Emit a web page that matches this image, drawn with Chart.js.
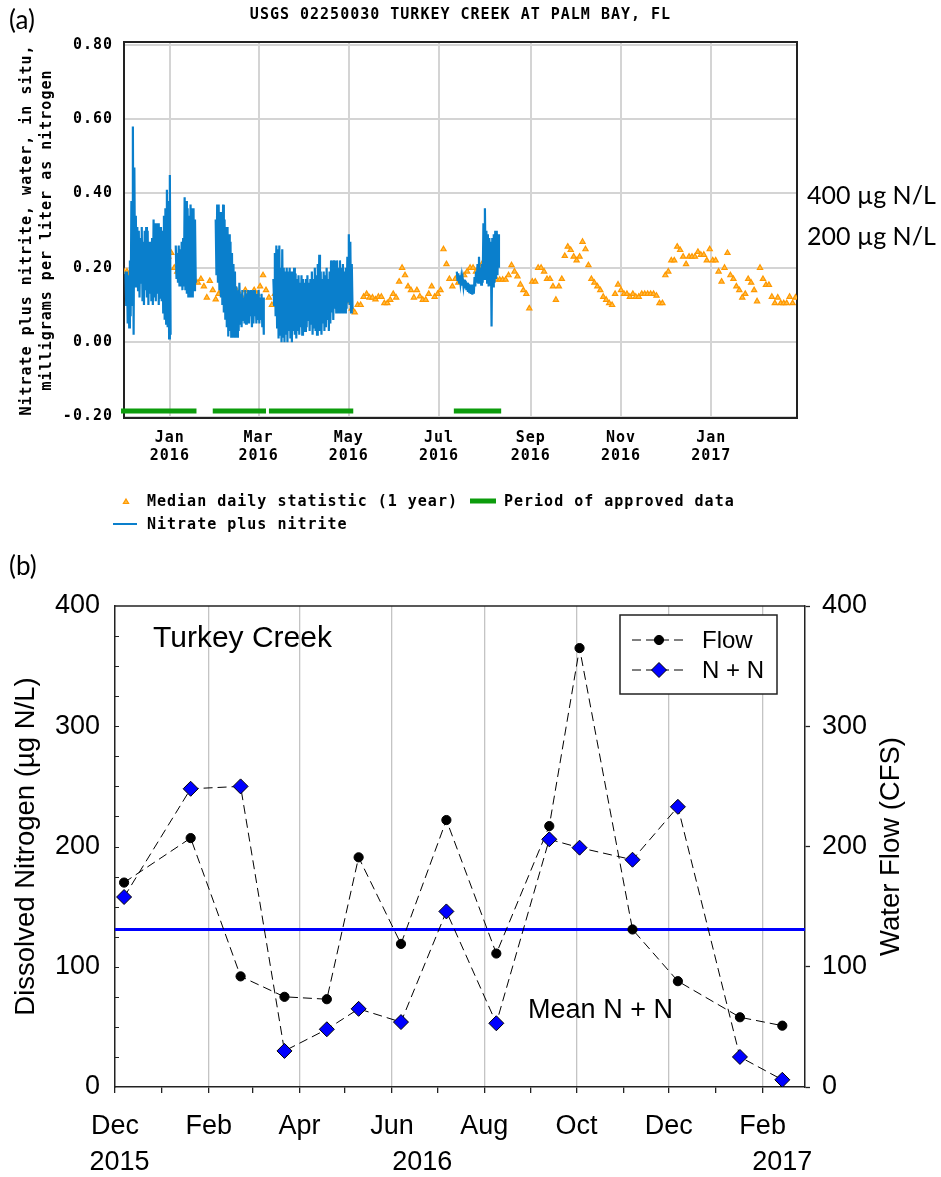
<!DOCTYPE html>
<html>
<head>
<meta charset="utf-8">
<title>Turkey Creek at Palm Bay – nitrate plus nitrite and flow</title>
<script src="https://cdn.jsdelivr.net/npm/chart.js@4.4.1/dist/chart.umd.min.js"></script>
<style>
  html, body { margin: 0; padding: 0; background: #fff; }
  body { width: 941px; height: 1177px; position: relative; overflow: hidden; }
  canvas { position: absolute; left: 0; }
  #usgs { top: 0; }
  #creek { top: 550px; }
</style>
</head>
<body>
<canvas id="usgs" width="941" height="550"></canvas>
<canvas id="creek" width="941" height="627"></canvas>
<script>
// ---------- shared helper: days since 2015-12-01 ----------
const ORIGIN = Date.UTC(2015, 11, 1);
function dayOf(s) {
  const p = s.split('-').map(Number);
  return (Date.UTC(p[0], p[1] - 1, p[2]) - ORIGIN) / 86400000;
}

// ================= Panel (a): USGS continuous record =================
const titleA = 'USGS 02250030 TURKEY CREEK AT PALM BAY, FL';
const axisTitleA = ['Nitrate plus nitrite, water, in situ,', 'milligrams per liter as nitrogen'];
const yTicksA = [-0.2, 0, 0.2, 0.4, 0.6, 0.8];
const xTickDatesA = ['2016-01-01', '2016-03-01', '2016-05-01', '2016-07-01', '2016-09-01', '2016-11-01', '2017-01-01'];
const xTickMonthsA = ['Jan', 'Mar', 'May', 'Jul', 'Sep', 'Nov', 'Jan'];
const xTickYearsA = ['2016', '2016', '2016', '2016', '2016', '2016', '2017'];
const refLabels = ['400 µg N/L', '200 µg N/L'];

// median daily statistic (1 year), one value every 2 days from 2015-12-01 (mg/L)
const medianStart = '2015-12-01';
const medianStep = 2;
const medianVal = [
  0.19, 0.19, 0.18, 0.20, 0.21, 0.20, 0.19, 0.20, 0.21, 0.20,
  0.19, 0.20, 0.21, 0.20, 0.22, 0.23, 0.24, 0.20, 0.19, 0.18,
  0.18, 0.18, 0.175, 0.17, 0.166, 0.16, 0.17, 0.15, 0.12, 0.165,
  0.14, 0.115, 0.13, 0.14, 0.13, 0.14, 0.13, 0.12, 0.14, 0.13,
  0.12, 0.14, 0.13, 0.13, 0.14, 0.13, 0.15, 0.18, 0.14, 0.12,
  0.10, 0.13, 0.14, 0.13, 0.15, 0.13, 0.12, 0.13, 0.12, 0.13,
  0.14, 0.12, 0.13, 0.12, 0.13, 0.12, 0.14, 0.12, 0.11, 0.12,
  0.13, 0.12, 0.14, 0.13, 0.13, 0.12, 0.11, 0.09, 0.08, 0.10,
  0.10, 0.122, 0.13, 0.12, 0.12, 0.115, 0.122, 0.122, 0.105, 0.105,
  0.114, 0.13, 0.12, 0.163, 0.20, 0.18, 0.15, 0.14, 0.12, 0.14,
  0.123, 0.114, 0.114, 0.13, 0.15, 0.122, 0.13, 0.14, 0.25, 0.21,
  0.17, 0.15, 0.17, 0.16, 0.17, 0.18, 0.19, 0.20, 0.20, 0.19,
  0.20, 0.21, 0.20, 0.19, 0.18, 0.17, 0.168, 0.168, 0.168, 0.168,
  0.18, 0.207, 0.19, 0.177, 0.155, 0.14, 0.13, 0.091, 0.163, 0.163,
  0.20, 0.20, 0.19, 0.17, 0.17, 0.15, 0.114, 0.15, 0.17, 0.232,
  0.257, 0.248, 0.23, 0.22, 0.23, 0.27, 0.25, 0.207, 0.17, 0.16,
  0.15, 0.14, 0.122, 0.114, 0.105, 0.10, 0.13, 0.155, 0.14, 0.13,
  0.13, 0.122, 0.13, 0.122, 0.122, 0.13, 0.13, 0.13, 0.13, 0.13,
  0.125, 0.105, 0.105, 0.18, 0.19, 0.22, 0.22, 0.257, 0.248, 0.23,
  0.21, 0.23, 0.23, 0.23, 0.243, 0.235, 0.235, 0.22, 0.25, 0.22,
  0.22, 0.19, 0.163, 0.20, 0.24, 0.18, 0.17, 0.15, 0.14, 0.12,
  0.13, 0.17, 0.16, 0.14, 0.11, 0.20, 0.17, 0.154, 0.154, 0.122,
  0.105, 0.12, 0.105, 0.105, 0.105, 0.122, 0.105, 0.12
];

// nitrate plus nitrite sensor record: daily high / low per deployment (mg/L)
const nitrateStart = ['2015-12-02', '2016-01-05', '2016-02-01', '2016-03-11', '2016-07-13'];
const nitrateHi1 = [0.19, 0.19, 0.18, 0.22, 0.38, 0.58, 0.47, 0.34, 0.31, 0.30, 0.28, 0.31, 0.27, 0.30, 0.31, 0.30,
  0.27, 0.26, 0.28, 0.33, 0.32, 0.31, 0.32, 0.30, 0.31, 0.30, 0.34, 0.36, 0.41, 0.38, 0.45];
const nitrateLo1 = [0.10, 0.05, 0.04, 0.07, 0.10, 0.02, 0.15, 0.16, 0.14, 0.12, 0.16, 0.11, 0.10, 0.14, 0.12, 0.10,
  0.13, 0.11, 0.10, 0.12, 0.11, 0.13, 0.10, 0.12, 0.11, 0.08, 0.06, 0.05, 0.04, 0.01, 0.02];
const nitrateHi2 = [0.26, 0.24, 0.26, 0.25, 0.27, 0.28, 0.39, 0.38, 0.36, 0.34, 0.37, 0.36, 0.36, 0.33];
const nitrateLo2 = [0.17, 0.16, 0.15, 0.15, 0.14, 0.15, 0.14, 0.13, 0.12, 0.12, 0.12, 0.12, 0.14, 0.16];
const nitrateHi3 = [0.33, 0.37, 0.37, 0.35, 0.33, 0.37, 0.33, 0.31, 0.31, 0.29, 0.27, 0.24, 0.21, 0.19, 0.15, 0.14,
  0.16, 0.13, 0.14, 0.12, 0.14, 0.13, 0.14, 0.12, 0.14, 0.13, 0.14, 0.12, 0.13, 0.14, 0.12, 0.13, 0.12];
const nitrateLo3 = [0.18, 0.16, 0.14, 0.12, 0.10, 0.08, 0.06, 0.04, 0.015, 0.03, 0.015, 0.02, 0.015, 0.03, 0.015, 0.03,
  0.05, 0.04, 0.06, 0.05, 0.05, 0.07, 0.05, 0.07, 0.04, 0.05, 0.07, 0.05, 0.06, 0.05, 0.06, 0.04, 0.02];
const nitrateHi4 = [0.17, 0.24, 0.26, 0.25, 0.26, 0.20, 0.25, 0.20, 0.19, 0.20, 0.19, 0.20, 0.19, 0.18, 0.20, 0.185,
  0.17, 0.18, 0.16, 0.18, 0.17, 0.16, 0.17, 0.18, 0.16, 0.17, 0.19, 0.17, 0.20, 0.18, 0.21, 0.235, 0.19, 0.17,
  0.19, 0.18, 0.20, 0.17, 0.19, 0.22, 0.21, 0.22, 0.19, 0.22, 0.20, 0.22, 0.20, 0.21, 0.19, 0.20, 0.23, 0.29,
  0.27, 0.21];
const nitrateLo4 = [0.10, 0.07, 0.04, 0.01, 0.02, 0.00, 0.015, 0.00, 0.02, 0.00, 0.03, 0.01, 0.00, 0.03, 0.02, 0.01,
  0.03, 0.02, 0.04, 0.02, 0.05, 0.03, 0.04, 0.06, 0.03, 0.05, 0.02, 0.04, 0.03, 0.02, 0.04, 0.03, 0.02, 0.05,
  0.03, 0.04, 0.06, 0.03, 0.05, 0.08, 0.06, 0.09, 0.08, 0.10, 0.08, 0.09, 0.08, 0.10, 0.08, 0.09, 0.11, 0.10,
  0.08, 0.09];
const nitrateHi5 = [0.19, 0.185, 0.18, 0.175, 0.17, 0.168, 0.165, 0.16, 0.157, 0.155, 0.15, 0.155, 0.175, 0.19, 0.21,
  0.23, 0.20, 0.21, 0.32, 0.36, 0.30, 0.29, 0.28, 0.27, 0.28, 0.29, 0.30, 0.30, 0.29];
const nitrateLo5 = [0.165, 0.16, 0.158, 0.152, 0.15, 0.145, 0.14, 0.135, 0.132, 0.13, 0.128, 0.13, 0.15, 0.16, 0.16,
  0.165, 0.155, 0.16, 0.17, 0.18, 0.16, 0.15, 0.155, 0.042, 0.15, 0.16, 0.17, 0.18, 0.20];

// periods of approved data
const approvedFrom = ['2015-11-29', '2016-01-30', '2016-03-08', '2016-07-11'];
const approvedTo = ['2016-01-19', '2016-03-06', '2016-05-04', '2016-08-12'];
const approvedLevel = -0.185;

// ---- build point lists for panel (a) ----
const medianPts = medianVal.map((v, i) => ({ x: dayOf(medianStart) + i * medianStep, y: v }));
const nitrateHi = [nitrateHi1, nitrateHi2, nitrateHi3, nitrateHi4, nitrateHi5];
const nitrateLo = [nitrateLo1, nitrateLo2, nitrateLo3, nitrateLo4, nitrateLo5];
const nitratePts = [];
nitrateStart.forEach((s, k) => {
  const d0 = dayOf(s);
  nitrateHi[k].forEach((hi, i) => {
    nitratePts.push({ x: d0 + i, y: hi }, { x: d0 + i + 0.5, y: nitrateLo[k][i] });
  });
  nitratePts.push({ x: d0 + nitrateHi[k].length, y: null });
});
const approvedPts = [];
approvedFrom.forEach((s, k) => {
  approvedPts.push({ x: dayOf(s), y: approvedLevel }, { x: dayOf(approvedTo[k]), y: approvedLevel });
  approvedPts.push({ x: dayOf(approvedTo[k]) + 1, y: null });
});

const MONO = '"DejaVu Sans Mono", "Liberation Mono", monospace';
const MONO_FONT = 'bold 15px ' + MONO;
const ORANGE_EDGE = '#ff9800', ORANGE_FILL = '#ffbe45';
const NITRATE_BLUE = '#0a7fcc', APPROVED_GREEN = '#0c9c0c';

function triangle(ctx, x, y, r) {
  ctx.beginPath();
  ctx.moveTo(x, y - r);
  ctx.lineTo(x + r * Math.sin(2 * Math.PI / 3), y - r * Math.cos(2 * Math.PI / 3));
  ctx.lineTo(x + r * Math.sin(4 * Math.PI / 3), y - r * Math.cos(4 * Math.PI / 3));
  ctx.closePath();
}

const usgsDecor = {
  id: 'usgsDecor',
  beforeDraw(chart) { chart.ctx.letterSpacing = '1px'; },
  beforeDatasetsDraw(chart) {
    const { ctx, chartArea: a } = chart;
    ctx.save();
    ctx.strokeStyle = '#222';
    ctx.lineWidth = 2;
    ctx.strokeRect(a.left, a.top, a.right - a.left, a.bottom - a.top);
    ctx.restore();
  },
  afterDraw(chart) {
    const { ctx, chartArea: a } = chart;
    ctx.save();
    ctx.fillStyle = '#000';
    ctx.font = MONO_FONT;
    ctx.textBaseline = 'middle';
    ctx.textAlign = 'center';
    ctx.fillText(titleA, (a.left + a.right) / 2, 15);

    // rotated two-line axis title
    ctx.save();
    ctx.translate(0, (a.top + a.bottom) / 2);
    ctx.rotate(-Math.PI / 2);
    ctx.fillText(axisTitleA[0], 0, 27);
    ctx.fillText(axisTitleA[1], 0, 47);
    ctx.restore();

    // legend
    const ds = chart.data.datasets;
    ctx.textAlign = 'left';
    ctx.fillStyle = ORANGE_FILL; ctx.strokeStyle = ORANGE_EDGE; ctx.lineWidth = 1.2;
    triangle(ctx, 126, 502, 3); ctx.fill(); ctx.stroke();
    ctx.fillStyle = '#000';
    ctx.fillText(ds[2].label, 147, 502);
    ctx.strokeStyle = APPROVED_GREEN; ctx.lineWidth = 5;
    ctx.beginPath(); ctx.moveTo(470, 501); ctx.lineTo(496, 501); ctx.stroke();
    ctx.fillText(ds[0].label, 504, 502);
    ctx.strokeStyle = NITRATE_BLUE; ctx.lineWidth = 2;
    ctx.beginPath(); ctx.moveTo(113, 524); ctx.lineTo(137, 524); ctx.stroke();
    ctx.fillText(ds[1].label, 147, 525);

    // panel tag and reference concentrations
    ctx.letterSpacing = '0px';
    ctx.font = '26px Lato, "Noto Sans", sans-serif';
    ctx.fillText('(a)', 9, 21);
    ctx.font = '25px Lato, "Noto Sans", sans-serif';
    ctx.fillText(refLabels[0], 807, 196);
    ctx.fillText(refLabels[1], 807, 237);
    ctx.restore();
    ctx.letterSpacing = '0px';
  }
};

new Chart(document.getElementById('usgs'), {
  type: 'line',
  data: {
    datasets: [
      { label: 'Period of approved data', data: approvedPts, borderColor: APPROVED_GREEN, borderWidth: 5,
        pointRadius: 0, spanGaps: false, order: 0, clip: 8 },
      { label: 'Nitrate plus nitrite', data: nitratePts, borderColor: NITRATE_BLUE, borderWidth: 2.2,
        pointRadius: 0, spanGaps: false, order: 1, tension: 0 },
      { label: 'Median daily statistic (1 year)', data: medianPts, showLine: false, pointStyle: 'triangle',
        pointRadius: 3, pointBackgroundColor: ORANGE_FILL, pointBorderColor: ORANGE_EDGE,
        pointBorderWidth: 1.2, order: 2 }
    ]
  },
  options: {
    responsive: false, animation: false, devicePixelRatio: 1, events: [],
    layout: { padding: { left: 0, right: 144, top: 42, bottom: 72 } },
    plugins: { legend: { display: false }, tooltip: { enabled: false }, title: { display: false } },
    scales: {
      x: {
        type: 'linear', min: 0, max: 455,
        afterBuildTicks: s => { s.ticks = xTickDatesA.map(d => ({ value: dayOf(d) })); },
        afterFit: s => { s.height = 60; },
        ticks: {
          autoSkip: false, maxRotation: 0, padding: 11, color: '#000',
          font: { family: MONO, size: 15, weight: 'bold', lineHeight: 1.2 },
          callback: (v, i) => [xTickMonthsA[i], xTickYearsA[i]]
        },
        grid: { color: '#d4d4d4', lineWidth: 2, drawTicks: false },
        border: { display: false }
      },
      y: {
        min: -0.204, max: 0.8075,
        afterBuildTicks: s => { s.ticks = yTicksA.map(v => ({ value: v })); },
        afterFit: s => { s.width = 124; },
        ticks: {
          padding: 11, color: '#000',
          font: { family: MONO, size: 15, weight: 'bold' },
          callback: v => v.toFixed(2)
        },
        grid: { color: '#d4d4d4', lineWidth: 2, drawTicks: false },
        border: { display: false }
      }
    }
  },
  plugins: [usgsDecor]
});

// ================= Panel (b): monthly samples =================
const sampleDates = ['2015-12-07', '2016-01-20', '2016-02-22', '2016-03-22', '2016-04-19', '2016-05-10', '2016-06-07',
  '2016-07-07', '2016-08-09', '2016-09-13', '2016-10-03', '2016-11-07', '2016-12-07', '2017-01-17', '2017-02-14'];
const flowCFS = [170, 207, 92, 75, 73, 191, 119, 222, 111, 217, 365, 131, 88, 58, 51];
const nnUgL = [158, 248, 250, 30, 48, 65, 54, 146, 53, 206, 199, 189, 233, 25, 6];
const meanNN = 131;
const monthTickDates = ['2015-12-01', '2016-01-01', '2016-02-01', '2016-03-01', '2016-04-01', '2016-05-01',
  '2016-06-01', '2016-07-01', '2016-08-01', '2016-09-01', '2016-10-01', '2016-11-01', '2016-12-01',
  '2017-01-01', '2017-02-01'];
const monthTickLabels = ['Dec', '', 'Feb', '', 'Apr', '', 'Jun', '', 'Aug', '', 'Oct', '', 'Dec', '', 'Feb'];
const yearLabels = ['2015', '2016', '2017'];
const yearLabelDates = ['2015-12-04', '2016-06-21', '2017-02-14'];
const siteName = 'Turkey Creek';
const meanLabel = 'Mean N + N';
const meanLabelAt = { date: '2016-08-30', value: 57 };

const SANS = '"Liberation Sans", Arial, sans-serif';
const flowPts = sampleDates.map((d, i) => ({ x: dayOf(d), y: flowCFS[i] }));
const nnPts = sampleDates.map((d, i) => ({ x: dayOf(d), y: nnUgL[i] }));
const X_MAX_B = dayOf('2017-03-01');

const creekDecor = {
  id: 'creekDecor',
  beforeDatasetsDraw(chart) {
    const { ctx, chartArea: a, scales } = chart;
    ctx.save();
    ctx.strokeStyle = '#222';
    ctx.lineWidth = 1.5;
    ctx.beginPath(); ctx.moveTo(a.left, a.top); ctx.lineTo(a.right, a.top); ctx.stroke();
    ctx.lineWidth = 1;
    for (let v = 25; v < 400; v += 25) {
      const y = Math.round(scales.y.getPixelForValue(v)) + 0.5;
      ctx.beginPath(); ctx.moveTo(a.left, y); ctx.lineTo(a.left + 4, y); ctx.stroke();
    }
    ctx.restore();
  },
  afterDraw(chart) {
    const { ctx, chartArea: a, scales } = chart;
    const ds = chart.data.datasets;
    ctx.save();
    ctx.fillStyle = '#000';
    ctx.textBaseline = 'alphabetic';
    ctx.textAlign = 'left';
    ctx.font = '30px ' + SANS;
    ctx.fillText(siteName, a.left + 38, a.top + 41);
    ctx.font = '27px ' + SANS;
    ctx.fillText(meanLabel, scales.x.getPixelForValue(dayOf(meanLabelAt.date)),
      scales.y.getPixelForValue(meanLabelAt.value));

    // year row under the month labels
    ctx.textAlign = 'center';
    ctx.textBaseline = 'middle';
    yearLabels.forEach((t, i) => ctx.fillText(t, scales.x.getPixelForValue(dayOf(yearLabelDates[i])), 613));

    // axis titles
    ctx.save();
    ctx.translate(26, (a.top + a.bottom) / 2);
    ctx.rotate(-Math.PI / 2);
    ctx.font = '27.5px ' + SANS;
    ctx.fillText('Dissolved Nitrogen (µg N/L)', 0, 0);
    ctx.restore();
    ctx.save();
    ctx.translate(891, (a.top + a.bottom) / 2);
    ctx.rotate(-Math.PI / 2);
    ctx.font = '27.5px ' + SANS;
    ctx.fillText('Water Flow (CFS)', 0, 0);
    ctx.restore();

    // legend box
    const bx = a.right - 185, by = a.top + 9, bw = 157, bh = 79;
    ctx.fillStyle = '#fff';
    ctx.fillRect(bx, by, bw, bh);
    ctx.strokeStyle = '#222'; ctx.lineWidth = 1.5;
    ctx.strokeRect(bx, by, bw, bh);
    [[ds[1], a.top + 34, 'circle'], [ds[2], a.top + 64, 'diamond']].forEach(([d, y, kind]) => {
      ctx.strokeStyle = '#000'; ctx.lineWidth = 1;
      ctx.setLineDash([9, 5]);
      ctx.beginPath(); ctx.moveTo(bx + 12, y); ctx.lineTo(bx + 67, y); ctx.stroke();
      ctx.setLineDash([]);
      const mx = bx + 39;
      ctx.fillStyle = d.pointBackgroundColor;
      ctx.beginPath();
      if (kind === 'circle') {
        ctx.arc(mx, y, d.pointRadius, 0, Math.PI * 2);
      } else {
        const r = d.pointRadius;
        ctx.moveTo(mx, y - r); ctx.lineTo(mx + r, y); ctx.lineTo(mx, y + r); ctx.lineTo(mx - r, y); ctx.closePath();
      }
      ctx.fill(); ctx.stroke();
      ctx.fillStyle = '#000';
      ctx.textAlign = 'left';
      ctx.font = '24px ' + SANS;
      ctx.fillText(d.label, bx + 82, y + 1);
    });

    ctx.font = '26px Lato, "Noto Sans", sans-serif';
    ctx.fillText('(b)', 9, 17);
    ctx.restore();
  }
};

new Chart(document.getElementById('creek'), {
  type: 'line',
  data: {
    datasets: [
      { label: 'Mean N + N', data: [{ x: 0, y: meanNN }, { x: X_MAX_B, y: meanNN }], yAxisID: 'y',
        borderColor: '#0000ff', borderWidth: 3, pointRadius: 0, order: 3 },
      { label: 'Flow', data: flowPts, yAxisID: 'y1', borderColor: '#000', borderWidth: 1, borderDash: [9, 5],
        pointRadius: 4.6, pointBackgroundColor: '#000', pointBorderColor: '#000', pointBorderWidth: 1, order: 1 },
      { label: 'N + N', data: nnPts, yAxisID: 'y', borderColor: '#000', borderWidth: 1, borderDash: [9, 5],
        pointStyle: 'rectRot', pointRadius: 7.5, pointBackgroundColor: '#0000ff', pointBorderColor: '#000',
        pointBorderWidth: 1, order: 0 }
    ]
  },
  options: {
    responsive: false, animation: false, devicePixelRatio: 1, events: [],
    layout: { padding: { left: 0, right: 0, top: 56, bottom: 0 } },
    plugins: { legend: { display: false }, tooltip: { enabled: false }, title: { display: false } },
    scales: {
      x: {
        type: 'linear', min: 0, max: X_MAX_B,
        afterBuildTicks: s => { s.ticks = monthTickDates.map(d => ({ value: dayOf(d) })); },
        afterFit: s => { s.height = 90; },
        ticks: {
          autoSkip: false, maxRotation: 0, padding: 17, color: '#000',
          font: { family: SANS, size: 27 },
          callback: (v, i) => monthTickLabels[i]
        },
        grid: {
          color: c => (c.index > 0 && c.index % 2 === 0) ? '#c4c4c4' : 'rgba(0,0,0,0)',
          lineWidth: 1.3, tickColor: '#222', tickLength: 6, tickWidth: 1.3
        },
        border: { display: true, color: '#222', width: 1.5 }
      },
      y: {
        position: 'left', min: 0, max: 400,
        afterFit: s => { s.width = 115; },
        ticks: { stepSize: 100, padding: 15, color: '#000', font: { family: SANS, size: 27 } },
        grid: { drawOnChartArea: false, drawTicks: false },
        border: { display: true, color: '#222', width: 1.5 }
      },
      y1: {
        position: 'right', min: 0, max: 400,
        afterFit: s => { s.width = 136; },
        ticks: { stepSize: 100, padding: 12, color: '#000', font: { family: SANS, size: 27 } },
        grid: { drawOnChartArea: false, drawTicks: true, tickLength: 5, tickColor: '#222', tickWidth: 1.3 },
        border: { display: true, color: '#222', width: 1.5 }
      }
    }
  },
  plugins: [creekDecor]
});
</script>
</body>
</html>
